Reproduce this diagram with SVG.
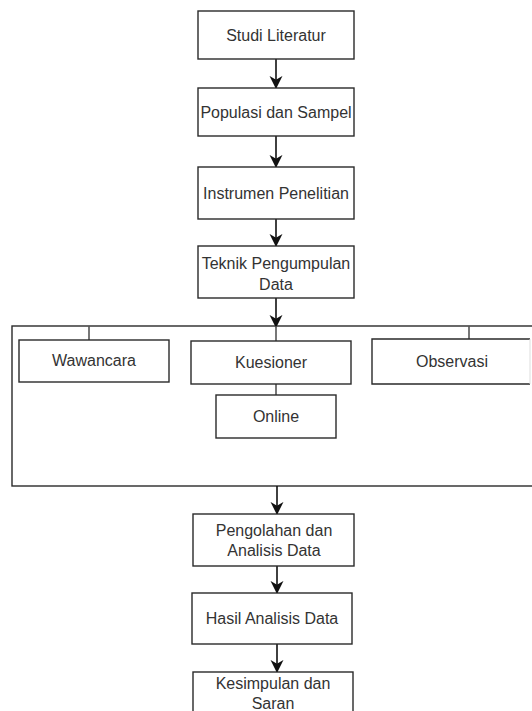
<svg xmlns="http://www.w3.org/2000/svg" width="532" height="711" viewBox="0 0 532 711">
<style>
.box{fill:#fff;stroke:#2a2a2a;stroke-width:1.4}
.txt{font-family:"Liberation Sans",Arial,sans-serif;font-size:16px;fill:#333;text-anchor:middle}
.arr{stroke:#111;stroke-width:1.6;fill:none}
.tick{stroke:#555;stroke-width:1.6;fill:none}
</style>
<defs>
<marker id="ah" markerUnits="userSpaceOnUse" viewBox="0 0 14 14" refX="13" refY="7" markerWidth="13" markerHeight="14" orient="auto">
<path d="M0,0 L14,7 L0,14 L4,7 Z" fill="#111"/>
</marker>
</defs>
<rect width="532" height="711" fill="#fff"/>
<g id="container">
<rect class="box" x="12" y="326" width="540" height="160"/>
</g>
<g id="connectors">
<line class="arr" x1="276" y1="59" x2="276" y2="88" marker-end="url(#ah)"/>
<line class="arr" x1="276" y1="136" x2="276" y2="167" marker-end="url(#ah)"/>
<line class="arr" x1="276" y1="219" x2="276" y2="246" marker-end="url(#ah)"/>
<line class="arr" x1="276" y1="298" x2="276" y2="327" marker-end="url(#ah)"/>
<line class="tick" x1="276" y1="326" x2="276" y2="341"/>
<line class="tick" x1="89" y1="326" x2="89" y2="340"/>
<line class="tick" x1="469" y1="326" x2="469" y2="339"/>
<line class="tick" x1="276" y1="384" x2="276" y2="395"/>
<line class="arr" x1="277" y1="486" x2="277" y2="514" marker-end="url(#ah)"/>
<line class="arr" x1="277" y1="566" x2="277" y2="593" marker-end="url(#ah)"/>
<line class="arr" x1="277" y1="644" x2="277" y2="672" marker-end="url(#ah)"/>
</g>
<g id="studi-literatur">
<rect class="box" x="198" y="11" width="156" height="48"/>
<text class="txt" x="276" y="41">Studi Literatur</text>
</g>
<g id="populasi-sampel">
<rect class="box" x="198" y="88" width="156" height="48"/>
<text class="txt" x="276" y="118">Populasi dan Sampel</text>
</g>
<g id="instrumen-penelitian">
<rect class="box" x="198" y="167" width="156" height="52"/>
<text class="txt" x="276" y="199">Instrumen Penelitian</text>
</g>
<g id="teknik-pengumpulan">
<rect class="box" x="198" y="246" width="156" height="52"/>
<text class="txt" x="276" y="269">Teknik Pengumpulan</text>
<text class="txt" x="276" y="290">Data</text>
</g>
<g id="wawancara">
<rect class="box" x="19" y="340" width="150" height="42"/>
<text class="txt" x="94" y="366">Wawancara</text>
</g>
<g id="kuesioner">
<rect class="box" x="191" y="341" width="160" height="43"/>
<text class="txt" x="271" y="368">Kuesioner</text>
</g>
<g id="online">
<rect class="box" x="216" y="395" width="120" height="43"/>
<text class="txt" x="276" y="422">Online</text>
</g>
<g id="observasi">
<rect x="372" y="339" width="158" height="45" fill="#fff"/>
<path d="M530,339 L372,339 L372,384 L530,384" class="box"/>
<line x1="530" y1="339" x2="530" y2="384" stroke="#ddd" stroke-width="1"/>
<text class="txt" x="452" y="367">Observasi</text>
</g>
<g id="pengolahan">
<rect class="box" x="193" y="514" width="161" height="52"/>
<text class="txt" x="274" y="536">Pengolahan dan</text>
<text class="txt" x="274" y="556">Analisis Data</text>
</g>
<g id="hasil-analisis">
<rect class="box" x="192" y="593" width="160" height="51"/>
<text class="txt" x="272" y="624">Hasil Analisis Data</text>
</g>
<g id="kesimpulan">
<rect class="box" x="193" y="672" width="160" height="52"/>
<text class="txt" x="273" y="689">Kesimpulan dan</text>
<text class="txt" x="273" y="709">Saran</text>
</g>
</svg>
